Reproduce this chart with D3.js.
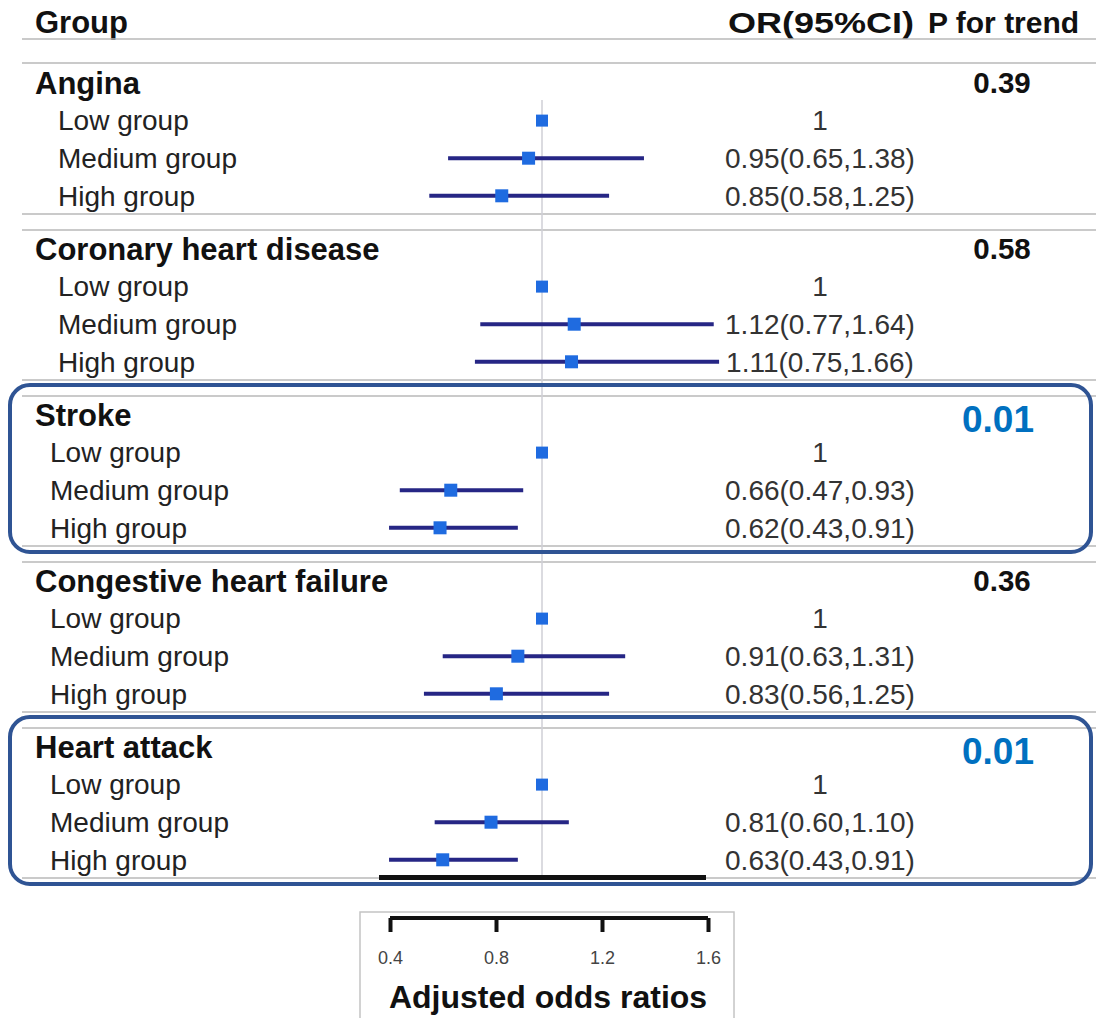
<!DOCTYPE html>
<html>
<head>
<meta charset="utf-8">
<script src="https://cdn.jsdelivr.net/npm/d3@7"></script>
<style>
  body { margin: 0; background: #fff; }
  svg { display: block; font-family: "Liberation Sans", Arial, sans-serif; }
</style>
</head>
<body>
<div id="chart"></div>
<script>
// Data
var outcomes = ['Angina', 'Coronary heart disease', 'Stroke', 'Congestive heart failure', 'Heart attack'];
var levels = ['Low group', 'Medium group', 'High group'];
var orEst  = [[1, 0.95, 0.85], [1, 1.12, 1.11], [1, 0.66, 0.62], [1, 0.91, 0.83], [1, 0.81, 0.63]];
var ciLow  = [[null, 0.65, 0.58], [null, 0.77, 0.75], [null, 0.47, 0.43], [null, 0.63, 0.56], [null, 0.60, 0.43]];
var ciHigh = [[null, 1.38, 1.25], [null, 1.64, 1.66], [null, 0.93, 0.91], [null, 1.31, 1.25], [null, 1.10, 0.91]];
var pTrend = ['0.39', '0.58', '0.01', '0.36', '0.01'];
var highlighted = [false, false, true, false, true];
var axisTicks = [0.4, 0.8, 1.2, 1.6];

var W = 1096, H = 1018;
var ROW = 37.6;

var svg = d3.select('#chart').append('svg')
    .attr('width', W)
    .attr('height', H);

// x scale for the forest plot, and a slightly shifted one for the pasted axis box
var x = d3.scaleLinear().domain([0.4, 1.6]).range([381, 703]);
var xBox = d3.scaleLinear().domain([0.4, 1.6]).range([390, 708]);

// section title position
var ySec = d3.scaleLinear().domain([0, outcomes.length - 1]).range([83, 747]);
function rowY(i, j) { return ySec(i) + (j + 1) * ROW; }

function formatOR(i, j) {
  if (ciLow[i][j] == null) return '1';
  return orEst[i][j].toFixed(2) + '(' + ciLow[i][j].toFixed(2) + ',' + ciHigh[i][j].toFixed(2) + ')';
}

// Header
svg.append('text').attr('x', 35).attr('y', 33)
    .style('font-size', '31px').style('font-weight', 'bold').attr('fill', '#111')
    .text('Group');
svg.append('text').attr('x', 914).attr('y', 33)
    .attr('text-anchor', 'end')
    .attr('textLength', 186).attr('lengthAdjust', 'spacingAndGlyphs')
    .style('font-size', '30px').style('font-weight', 'bold').attr('fill', '#111')
    .text('OR(95%CI)');
svg.append('text').attr('x', 928).attr('y', 33)
    .style('font-size', '30px').style('font-weight', 'bold').attr('fill', '#111')
    .text('P for trend');

// Gray separator lines
var sepLines = [39, 63];
outcomes.forEach(function(d, i) {
  sepLines.push(ySec(i) + 131);
  if (i < outcomes.length - 1) sepLines.push(ySec(i) + 147);
});
svg.selectAll('.sep')
    .data(sepLines)
    .enter().append('line')
    .attr('class', 'sep')
    .attr('x1', 22).attr('x2', W)
    .attr('y1', function(d) { return d; })
    .attr('y2', function(d) { return d; })
    .attr('stroke', '#b8b8b8')
    .attr('stroke-width', 1.5);

// Reference line at OR = 1
svg.append('line')
    .attr('x1', x(1)).attr('x2', x(1))
    .attr('y1', 100).attr('y2', 876)
    .attr('stroke', '#cfcfd6')
    .attr('stroke-width', 1.5);

// Sections
outcomes.forEach(function(name, i) {
  var g = svg.append('g');
  var top = ySec(i);
  var labelX = i < 2 ? 58 : 50;

  g.append('text').attr('x', 35).attr('y', top).attr('dy', '0.35em')
      .style('font-size', '31px').style('font-weight', 'bold').attr('fill', '#111')
      .text(name);

  if (highlighted[i]) {
    g.append('text').attr('x', 998).attr('y', top + 4).attr('dy', '0.35em')
        .attr('text-anchor', 'middle')
        .style('font-size', '37px').style('font-weight', 'bold').attr('fill', '#0070c0')
        .text(pTrend[i]);
  } else {
    g.append('text').attr('x', 1002).attr('y', top).attr('dy', '0.35em')
        .attr('text-anchor', 'middle')
        .style('font-size', '29.5px').style('font-weight', 'bold').attr('fill', '#111')
        .text(pTrend[i]);
  }

  levels.forEach(function(lv, j) {
    var y = rowY(i, j);
    g.append('text').attr('x', labelX).attr('y', y).attr('dy', '0.35em')
        .style('font-size', '28px').attr('fill', '#222')
        .text(lv);
    g.append('text').attr('x', 820).attr('y', y).attr('dy', '0.35em')
        .attr('text-anchor', 'middle')
        .style('font-size', '28px').attr('fill', '#333')
        .text(formatOR(i, j));

    if (ciLow[i][j] != null) {
      g.append('line')
          .attr('x1', x(ciLow[i][j])).attr('x2', x(ciHigh[i][j]))
          .attr('y1', y).attr('y2', y)
          .attr('stroke', '#262685')
          .attr('stroke-width', 4);
    }
    var s = ciLow[i][j] == null ? 12 : 13;
    g.append('rect')
        .attr('x', x(orEst[i][j]) - s / 2).attr('y', y - s / 2)
        .attr('width', s).attr('height', s)
        .attr('fill', '#1f6be0');
  });

  if (highlighted[i]) {
    g.append('rect')
        .attr('x', 10).attr('y', top - 30)
        .attr('width', 1081).attr('height', 167)
        .attr('rx', 20).attr('ry', 20)
        .attr('fill', 'none')
        .attr('stroke', '#2f5494')
        .attr('stroke-width', 4);
  }
});

// Cut-off axis under the plot
svg.append('g')
    .attr('transform', 'translate(0,877)')
    .call(d3.axisBottom(x).tickValues(axisTicks).tickSize(3).tickFormat(''))
    .call(function(a) {
      a.select('.domain').attr('stroke', '#111').attr('stroke-width', 5);
      a.selectAll('.tick line').attr('stroke', '#111').attr('stroke-width', 3);
    });

// Pasted axis box at the bottom
svg.append('rect')
    .attr('x', 360).attr('y', 912)
    .attr('width', 374).attr('height', 120)
    .attr('fill', '#fff')
    .attr('stroke', '#c4c4c4')
    .attr('stroke-width', 1.5);

svg.append('g')
    .attr('transform', 'translate(0,918)')
    .attr('font-size', 18)
    .attr('font-family', '"Liberation Sans", Arial, sans-serif')
    .call(d3.axisBottom(xBox).tickValues(axisTicks).tickSize(14).tickSizeOuter(0)
          .tickFormat(d3.format('.1f')))
    .attr('font-size', 18)
    .attr('font-family', '"Liberation Sans", Arial, sans-serif')
    .call(function(a) {
      a.select('.domain').attr('stroke', '#111').attr('stroke-width', 4)
          .attr('d', 'M' + xBox(0.4) + ',0H' + xBox(1.6));
      a.selectAll('.tick line').attr('stroke', '#111').attr('stroke-width', 4);
      a.selectAll('.tick text')
          .attr('y', 40).attr('dy', '0.35em')
          .attr('fill', '#444');
    });

svg.append('text')
    .attr('x', 548).attr('y', 1008)
    .attr('text-anchor', 'middle')
    .style('font-size', '32px').style('font-weight', 'bold').attr('fill', '#111')
    .text('Adjusted odds ratios');
</script>
</body>
</html>
